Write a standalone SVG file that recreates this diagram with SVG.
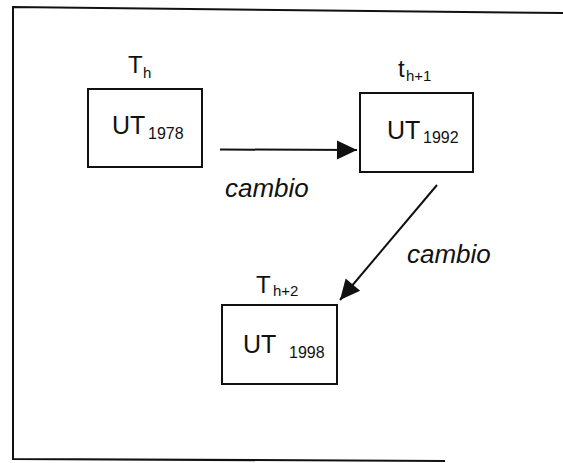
<svg xmlns="http://www.w3.org/2000/svg" width="563" height="463" viewBox="0 0 563 463">
  <style>
    .frame { fill: none; stroke: #111; stroke-width: 2; }
    .box { fill: #fff; stroke: #111; stroke-width: 2; }
    .conn { fill: none; stroke: #111; stroke-width: 2; }
    .lbl { font-family: "Liberation Sans", Arial, sans-serif; fill: #111; }
    .main { font-size: 25px; }
    .sub { font-size: 16px; }
    .tl { font-size: 24px; }
    .tsub { font-size: 15px; }
    .edge { font-family: "Liberation Sans", Arial, sans-serif; font-style: italic; font-size: 26px; fill: #111; }
  </style>
  <defs>
    <marker id="head" markerUnits="userSpaceOnUse" markerWidth="22" markerHeight="22" viewBox="0 0 22 22" refX="21" refY="11" orient="auto">
      <path d="M1,1.5 L21,11 L1,20.5 Z" fill="#111"/>
    </marker>
  </defs>

  <rect width="563" height="463" fill="#fff"/>

  <!-- open outer frame: top, left and bottom edges -->
  <g id="frame">
    <path class="frame" d="M563,13 L13,7 L13,459 L445,461"/>
  </g>

  <g id="connectors">
    <line class="conn" x1="220" y1="149.5" x2="357" y2="150" marker-end="url(#head)"/>
    <line class="conn" x1="437" y1="185" x2="340" y2="300" marker-end="url(#head)"/>
    <text class="edge" x="225" y="197">cambio</text>
    <text class="edge" x="407" y="263">cambio</text>
  </g>

  <g id="node-1978">
    <text class="lbl tl" x="128" y="73">T<tspan class="tsub" x="143" y="78">h</tspan></text>
    <rect class="box" x="88" y="89" width="114" height="78"/>
    <text class="lbl main" x="112" y="134">UT<tspan class="sub" x="148" y="139">1978</tspan></text>
  </g>

  <g id="node-1992">
    <text class="lbl tl" x="398" y="77">t<tspan class="tsub" x="406" y="81">h+1</tspan></text>
    <rect class="box" x="360" y="93" width="113" height="79"/>
    <text class="lbl main" x="387" y="139">UT<tspan class="sub" x="423" y="143">1992</tspan></text>
  </g>

  <g id="node-1998">
    <text class="lbl tl" x="256" y="293">T<tspan class="tsub" x="273" y="296">h+2</tspan></text>
    <rect class="box" x="222" y="305" width="115" height="79"/>
    <text class="lbl main" x="243" y="353">UT<tspan class="sub" x="289" y="358">1998</tspan></text>
  </g>
</svg>
